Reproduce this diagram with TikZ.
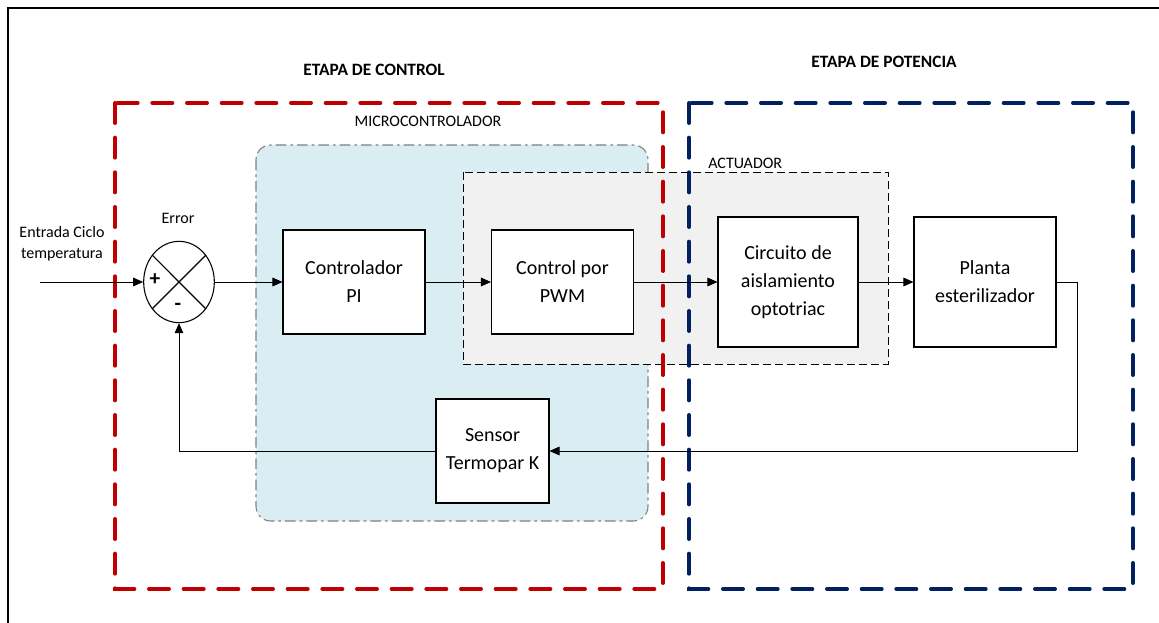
\documentclass[tikz,border=0pt]{standalone}
\usepackage{fontspec}
\setmainfont{Carlito}
\usetikzlibrary{arrows.meta,shapes.geometric}

\definecolor{rojo}{HTML}{C00000}
\definecolor{azul}{HTML}{002060}
\definecolor{celeste}{HTML}{DAEDF3}
\definecolor{grisclaro}{HTML}{F1F1F1}

\tikzset{
	bloque/.style={draw,thick,fill=white,minimum width=106.5pt,minimum height=78pt,align=center,font=\fontsize{15}{21}\selectfont},
	flecha/.style={semithick,-{Triangle[length=7.5pt,width=6.5pt]}},
	etapa/.style={line width=3pt,dash pattern=on 15pt off 11pt,line cap=round},
	rotulo/.style={font=\fontsize{12}{16}\selectfont,inner sep=0pt},
}

\begin{document}
\begin{tikzpicture}[x=0.75pt,y=-0.75pt]
		\useasboundingbox (0,0) rectangle (1159,623);
		\draw[thick] (8,623) -- (8,8) -- (1159,8);
		% zonas
		\draw[gray,thick,fill=celeste,rounded corners=11pt,dash pattern=on 8pt off 3pt on 2pt off 3pt] (256,145) rectangle (648,521);
		\draw[semithick,fill=grisclaro,dash pattern=on 6pt off 3pt] (463,172) rectangle (888,364);
		\draw[etapa,rojo] (115,103) rectangle (663,589);
		\draw[etapa,azul] (689,103) rectangle (1133,589);
		\node[font=\bfseries\fontsize{13}{16}\selectfont] (tcontrol) at (374,70) {ETAPA DE CONTROL};
		\node[font=\bfseries\fontsize{13}{16}\selectfont] (tpotencia) at (884,62) {ETAPA DE POTENCIA};
		\node[rotulo] (tmicro) at (428,121) {MICROCONTROLADOR};
		\node[rotulo,anchor=west] (tact) at (708,163) {ACTUADOR};
		% bloques
		\node[draw,thick,ellipse,fill=white,minimum width=53pt,minimum height=61pt,inner sep=0pt] (sum) at (179,282) {};
		\draw[thick] (sum.45) -- (sum.225) (sum.135) -- (sum.315);
		\node[font=\bfseries\fontsize{16}{16}\selectfont,inner sep=0pt] (mas) at (155,280) {+};
		\node[font=\bfseries\fontsize{16}{16}\selectfont,inner sep=0pt] (menos) at (178,307) {-};
		\node[rotulo] (error) at (178,218) {Error};
		\node[rotulo,align=center] (entrada) at (62,244) {Entrada Ciclo\\temperatura};
		\node[bloque] (pi) at (354,282) {Controlador\\PI};
		\node[bloque] (pwm) at (562.5,282) {Control por\\PWM};
		\node[bloque,minimum width=105pt,minimum height=97.5pt] (opto) at (788,282) {Circuito de\\aislamiento\\optotriac};
		\node[bloque,minimum height=97.5pt] (planta) at (985,282) {Planta\\esterilizador};
		\node[bloque,minimum width=84.75pt] (sensor) at (492.5,451) {Sensor\\Termopar K};
		\coordinate (in) at (40,282);
		% conexiones
		\draw[flecha] (in) -- (sum.west);
		\draw[flecha] (sum.east) -- (pi.west);
		\draw[flecha] (pi.east) -- (pwm.west);
		\draw[flecha] (pwm.east) -- (opto.west);
		\draw[flecha] (opto.east) -- (planta.west);
		\draw[flecha] (planta.east) -- ++(21,0) |- (sensor.east);
		\draw[flecha] (sensor.west) -| (sum.south);
	\end{tikzpicture}
\end{document}
